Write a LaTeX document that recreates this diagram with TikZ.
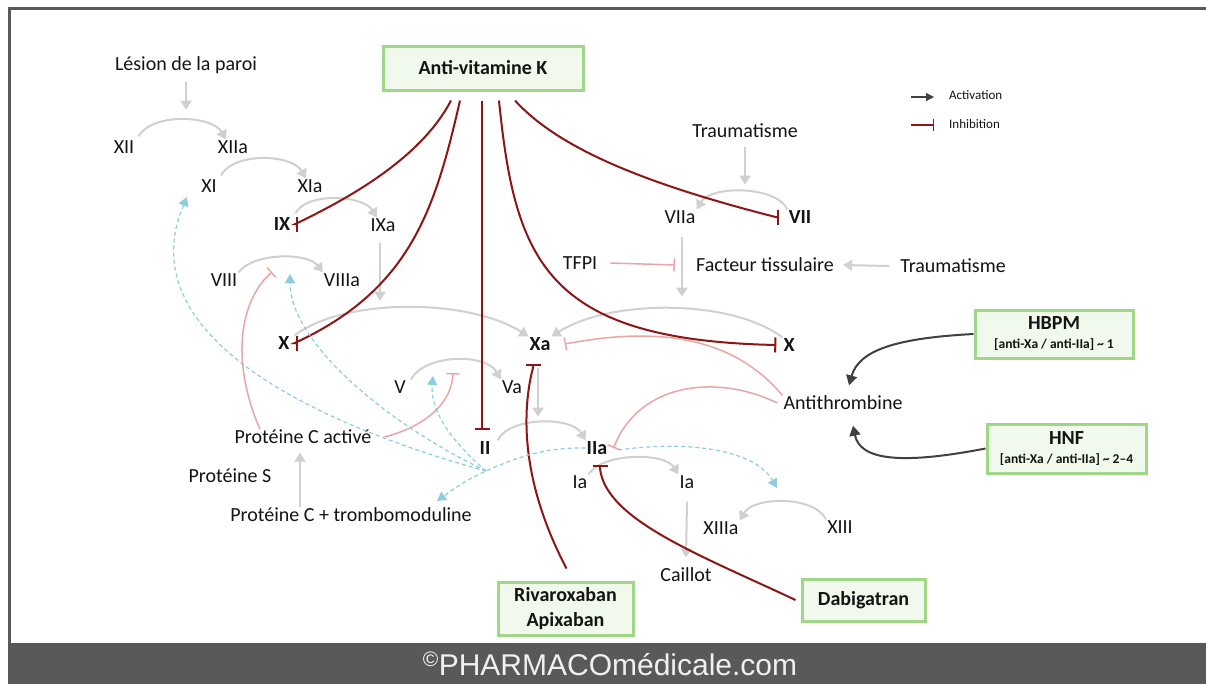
\documentclass[tikz,border=0pt]{standalone}
\usepackage{fontspec}
\setmainfont{Carlito}
\newfontfamily\footfont{Liberation Sans}
\usetikzlibrary{arrows.meta}
\definecolor{lgray}{RGB}{208,208,208}
\definecolor{dred}{RGB}{140,22,22}
\definecolor{pinkc}{RGB}{234,165,165}
\definecolor{lblue}{RGB}{140,205,225}
\definecolor{boxgreen}{RGB}{160,215,135}
\definecolor{boxfill}{RGB}{241,248,236}
\definecolor{footgray}{RGB}{89,89,89}
\definecolor{dgray}{RGB}{64,64,64}
\definecolor{txt}{RGB}{20,20,20}
\begin{document}
\begin{tikzpicture}[x=1pt,y=-1pt,
  lbl/.style={font=\fontsize{20}{24}\selectfont, text=txt, inner sep=1pt, text height=12.9pt, text depth=0pt},
  blbl/.style={lbl, font=\fontsize{20}{24}\selectfont\bfseries},
  drug/.style={draw=boxgreen, fill=boxfill, line width=3pt, font=\fontsize{20}{25}\selectfont\bfseries, text=txt, align=center, inner sep=2pt},
  gact/.style={draw=lgray, line width=2pt, -{Triangle[length=9pt,width=11pt]}},
  pinh/.style={draw=pinkc, line width=1.5pt, -{Bar[width=13pt]}},
  rinh/.style={draw=dred, line width=2pt, -{Bar[width=15pt]}},
  bact/.style={draw=lblue, line width=1.2pt, dash pattern=on 4pt off 3pt, -{Triangle[length=9pt,width=10pt]}},
  dact/.style={draw=dgray, line width=2pt, -{Triangle[length=10pt,width=11pt]}},
  leg/.style={font=\fontsize{13}{15}\selectfont, text=txt, anchor=west, inner sep=0pt}
]
\useasboundingbox (0,0) rectangle (1206,683);
\fill[white] (-5,-5) rectangle (1212,690);

% frame and footer
\fill[footgray] (8,643) rectangle (1212,690);
\draw[footgray, line width=3pt] (9.5,690) -- (9.5,8.5) -- (1212,8.5);
\node[font=\footfont\fontsize{30}{30}\selectfont, text=white!94!black, inner sep=0pt] (foot) at (610,664) {\textsuperscript{©}PHARMACOmédicale.com};

% labels
\node[lbl] (lesion) at (186,64) {Lésion de la paroi};
\node[lbl] (XII) at (124,147) {XII};
\node[lbl] (XIIa) at (233,147) {XIIa};
\node[lbl] (XI) at (209,186) {XI};
\node[lbl] (XIa) at (310,186) {XIa};
\node[blbl] (IX) at (282,224) {IX};
\node[lbl] (IXa) at (383,225) {IXa};
\node[lbl] (VIII) at (224,280) {VIII};
\node[lbl] (VIIIa) at (342,280) {VIIIa};
\node[blbl] (Xl) at (284,343) {X};
\node[blbl] (Xa) at (540,344) {Xa};
\node[lbl] (V) at (400,387) {V};
\node[lbl] (Va) at (512,387) {Va};
\node[blbl] (II) at (485,448) {II};
\node[blbl] (IIa) at (597,448) {IIa};
\node[lbl] (Ia1) at (580,482) {Ia};
\node[lbl] (Ia2) at (687,482) {Ia};
\node[lbl] (XIIIa) at (721,528) {XIIIa};
\node[lbl] (XIII) at (840,527) {XIII};
\node[lbl] (Caillot) at (686,575) {Caillot};
\node[lbl] (TraumA) at (745,131) {Traumatisme};
\node[lbl] (VIIa) at (680,217) {VIIa};
\node[blbl] (VII) at (800,217) {VII};
\node[lbl] (TFPI) at (580,263) {TFPI};
\node[lbl] (FT) at (765,265) {Facteur tissulaire};
\node[lbl] (TraumB) at (953,266) {Traumatisme};
\node[blbl] (Xr) at (789,345) {X};
\node[lbl] (AT) at (843,403) {Antithrombine};
\node[lbl] (PCa) at (303,437) {Protéine C activé};
\node[lbl] (PS) at (230,476) {Protéine S};
\node[lbl] (PCT) at (351,515) {Protéine C + trombomoduline};

% drug boxes
\node[drug, minimum width=200, minimum height=44] (AVK) at (483,68) {Anti-vitamine K};
\node[drug, minimum width=158, minimum height=48] (HBPM) at (1054,334) {HBPM\\[-6pt]{\fontsize{13.5}{15}\selectfont [anti-Xa / anti-IIa] \textasciitilde{} 1}};
\node[drug, minimum width=159, minimum height=49] (HNF) at (1066.5,448.5) {HNF\\[-6pt]{\fontsize{13.5}{15}\selectfont [anti-Xa / anti-IIa] \textasciitilde{} 2\textendash 4}};
\node[drug, minimum width=135, minimum height=53] (Riva) at (565.5,608.5) {Rivaroxaban\\Apixaban};
\node[drug, minimum width=123, minimum height=42] (Dabi) at (863.5,600) {Dabigatran};

% legend
\node[leg] (legA) at (949,95) {Activation};
\node[leg] (legI) at (949,124) {Inhibition};
\draw[dact, line width=1.5pt, -{Triangle[length=8pt,width=8pt]}] ([xshift=-38,yshift=-2]legA.west) -- ([xshift=-15,yshift=-2]legA.west);
\draw[rinh, line width=1.5pt, -{Bar[width=12pt]}] ([xshift=-38,yshift=-1]legI.west) -- ([xshift=-15,yshift=-1]legI.west);

% free ends
\coordinate (hub) at (486,471);
\coordinate (XItip) at (187,197);
\coordinate (VIIIatip) at (290,274);
\coordinate (Vtip) at (433,376);
\coordinate (PCTtip) at (437,501);
\coordinate (XIIItip) at (777,488);
\coordinate (Vinh) at (453,373);
\coordinate (VIIIinh) at (272,272);

% gray activation arcs
\draw[gact] ([xshift=3,yshift=3]XII.north east) .. controls +(14,-24) and +(-14,-24) .. ([xshift=-7]XIIa.north);
\draw[gact] ([xshift=3,yshift=3]XI.north east) .. controls +(14,-24) and +(-14,-24) .. ([xshift=-4]XIa.north);
\draw[gact] ([xshift=4,yshift=3]IX.north east) .. controls +(12,-22) and +(-14,-22) .. ([xshift=-6]IXa.north);
\draw[gact] (VIII.north east) .. controls +(15,-20) and +(-15,-20) .. (VIIIa.north west);
\draw[gact] ([xshift=4]Xl.north east) .. controls +(50,-38) and +(-60,-38) .. (Xa.north west);
\draw[gact] (Xr.north west) .. controls +(-50,-38) and +(60,-38) .. (Xa.north east);
\draw[gact] ([xshift=4]V.north east) .. controls +(15,-26) and +(-15,-26) .. (Va.north west);
\draw[gact] ([xshift=6]II.north east) .. controls +(12,-24) and +(-14,-24) .. (IIa.north west);
\draw[gact] (Ia1.north east) .. controls +(14,-22) and +(-14,-22) .. (Ia2.north west);
\draw[gact] (XIII.north west) .. controls +(-12,-24) and +(14,-24) .. (XIIIa.north east);
\draw[gact] (VII.north west) .. controls +(-12,-24) and +(14,-24) .. (VIIa.north east);

% gray straight arrows
\draw[gact] ([yshift=-10]lesion.south) -- ++(0,28);
\draw[gact] ([yshift=-8]TraumA.south) -- ++(0,38);
\draw[gact] ([xshift=2,yshift=-12]VIIa.south) -- ++(0,60);
\draw[gact] ([xshift=-3,yshift=-10]IXa.south) -- ++(0,58);
\draw[gact] ([xshift=-2,yshift=-16]Xa.south) -- ++(0,49);
\draw[gact] ([xshift=-51]PCT.north) -- ([xshift=-3,yshift=-8]PCa.south);
\draw[gact] ([xshift=-10]TraumB.west) -- ([xshift=8]FT.east);
\draw[gact] ([yshift=-12]Ia2.south) -- ([yshift=10]Caillot.north);

% pink inhibitions
\draw[pinh] ([xshift=12]TFPI.east) -- ([xshift=-20]FT.west);
\draw[pinh] (AT.north west) .. controls +(-62,-75) and +(55,-10) .. ([xshift=13]Xa.east);
\draw[pinh] ([xshift=-5]AT.west) .. controls +(-57,-28) and +(27,-68) .. ([xshift=5]IIa.east);
\draw[pinh] ([xshift=12]PCa.east) .. controls (430,425) and (452,400) .. (Vinh);
\draw[pinh] ([xshift=-43]PCa.north) .. controls (230,360) and (240,300) .. (VIIIinh);

% dark red inhibitions
\draw[rinh] ([xshift=-32,yshift=-9]AVK.south) .. controls (420,160) and (345,200) .. ([xshift=4]IX.east) -- ([xshift=7]IX.east);
\draw[rinh] ([xshift=-23,yshift=-9]AVK.south) .. controls (435,210) and (410,290) .. ([xshift=4]Xl.east) -- ([xshift=7]Xl.east);
\draw[rinh] ([xshift=-1,yshift=-9]AVK.south) -- ([xshift=-3,yshift=10]II.north);
\draw[rinh] ([xshift=16,yshift=-9]AVK.south) .. controls (515,260) and (545,340) .. ([xshift=-6]Xr.west);
\draw[rinh] ([xshift=32,yshift=-9]AVK.south) .. controls (560,150) and (650,185) .. ([xshift=-12]VII.west) -- ([xshift=-9]VII.west);
\draw[rinh] ([xshift=1,yshift=12]Riva.north) .. controls (520,480) and (522,410) .. ([xshift=-7,yshift=-16]Xa.south) -- ([xshift=-7,yshift=-12]Xa.south);
\draw[rinh] ([xshift=-5]Dabi.west) .. controls (700,555) and (606,520) .. ([xshift=3,yshift=-13]IIa.south) -- ([xshift=3,yshift=-9]IIa.south);

% blue dashed activations (thrombin)
\draw[bact] (IIa.west) .. controls (545,447) and (515,458) .. (hub) .. controls (466,480) and (452,490) .. (PCTtip);
\draw[bact] (hub) .. controls (300,420) and (130,330) .. (XItip);
\draw[bact] (hub) .. controls (380,420) and (290,340) .. (VIIIatip);
\draw[bact] (hub) .. controls (450,440) and (430,410) .. (Vtip);
\draw[bact] ([xshift=10,yshift=-2]IIa.east) .. controls (690,440) and (755,450) .. (XIIItip);

% heparins
\draw[dact] (HBPM.west) .. controls +(-75,4) and +(10,-36) .. ([xshift=6,yshift=10]AT.north);
\draw[dact] (HNF.west) .. controls (900,465) and (860,460) .. ([xshift=10,yshift=-15]AT.south);
\end{tikzpicture}
\end{document}
